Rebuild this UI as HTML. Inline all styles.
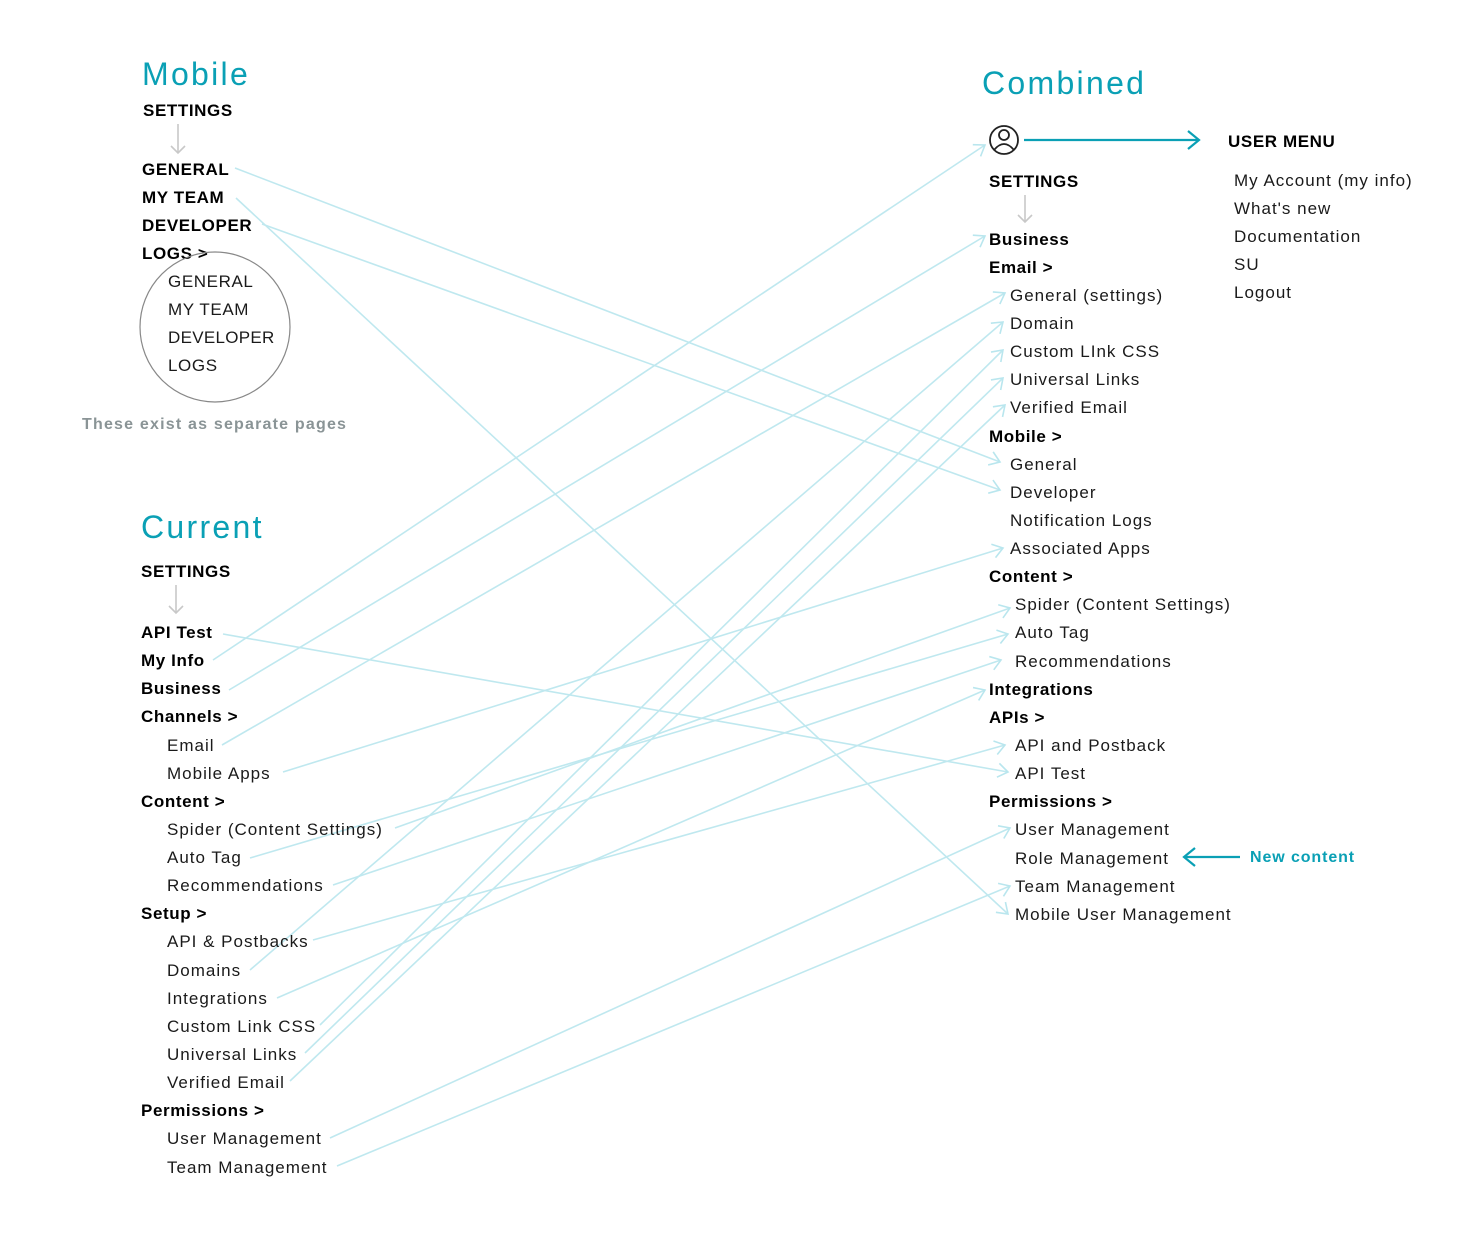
<!DOCTYPE html>
<html><head><meta charset="utf-8"><style>
html,body{margin:0;padding:0;background:#fff;}
svg{display:block;}
text{font-family:"Liberation Sans",sans-serif;font-size:17px;fill:#1a1a1a;letter-spacing:1.0px;}
.b{font-weight:bold;fill:#000;letter-spacing:0.6px;}
.h{font-size:32px;fill:#0aa0b5;letter-spacing:2.3px;}
</style></head><body>
<svg width="1457" height="1248" viewBox="0 0 1457 1248" xmlns="http://www.w3.org/2000/svg">
<defs>
<marker id="a" markerWidth="14" markerHeight="16" refX="12" refY="8" orient="auto" markerUnits="userSpaceOnUse">
<path d="M2,1 L12,8 L2,15" fill="none" stroke="#b9e6ee" stroke-width="1.6"/></marker>
<marker id="t" markerWidth="16" markerHeight="20" refX="14" refY="10" orient="auto" markerUnits="userSpaceOnUse">
<path d="M3,1 L14,10 L3,19" fill="none" stroke="#0aa0b5" stroke-width="2.2"/></marker>
<marker id="g" markerWidth="16" markerHeight="14" refX="8" refY="12" orient="0" markerUnits="userSpaceOnUse">
<path d="M1,5 L8,12 L15,5" fill="none" stroke="#c8c8c8" stroke-width="1.6"/></marker>
</defs>

<g stroke="#bfe8ef" stroke-width="1.6" fill="none" marker-end="url(#a)">
<line x1="235" y1="168" x2="1000" y2="462"/>
<line x1="236" y1="198" x2="1008" y2="914"/>
<line x1="262" y1="224" x2="1000" y2="490"/>
<line x1="223" y1="634" x2="1008" y2="772"/>
<line x1="213" y1="660" x2="985" y2="145"/>
<line x1="229" y1="690" x2="985" y2="236"/>
<line x1="222" y1="745" x2="1005" y2="293"/>
<line x1="283" y1="772" x2="1003" y2="548"/>
<line x1="395" y1="828" x2="1010" y2="608"/>
<line x1="250" y1="858" x2="1008" y2="634"/>
<line x1="333" y1="885" x2="1001" y2="660"/>
<line x1="313" y1="940" x2="1005" y2="745"/>
<line x1="250" y1="970" x2="1003" y2="322"/>
<line x1="277" y1="998" x2="985" y2="690"/>
<line x1="320" y1="1025" x2="1003" y2="350"/>
<line x1="305" y1="1053" x2="1003" y2="378"/>
<line x1="290" y1="1081" x2="1005" y2="405"/>
<line x1="330" y1="1138" x2="1010" y2="828"/>
<line x1="337" y1="1166" x2="1010" y2="886"/>
</g>

<text x="142" y="85" class="h">Mobile</text>
<text x="143" y="116" class="b">SETTINGS</text>
<line x1="178" y1="124" x2="178" y2="153" stroke="#c8c8c8" stroke-width="1.6" marker-end="url(#g)"/>
<text x="142" y="175" class="b">GENERAL</text>
<text x="142" y="203" class="b">MY TEAM</text>
<text x="142" y="231" class="b">DEVELOPER</text>
<text x="142" y="259" class="b">LOGS &gt;</text>
<circle cx="215" cy="327" r="75" fill="none" stroke="#888" stroke-width="1.2"/>
<text x="168" y="287" style="letter-spacing:0.6px">GENERAL</text>
<text x="168" y="315" style="letter-spacing:0.6px">MY TEAM</text>
<text x="168" y="343" style="letter-spacing:0.3px">DEVELOPER</text>
<text x="168" y="371" style="letter-spacing:0.6px">LOGS</text>
<text x="82" y="429" style="fill:#8a9496;font-weight:bold;font-size:16px;letter-spacing:1.2px">These exist as separate pages</text>

<text x="141" y="538" class="h">Current</text>
<text x="141" y="577" class="b">SETTINGS</text>
<line x1="176" y1="585" x2="176" y2="613" stroke="#c8c8c8" stroke-width="1.6" marker-end="url(#g)"/>
<text x="141" y="638" class="b">API Test</text>
<text x="141" y="666" class="b">My Info</text>
<text x="141" y="694" class="b">Business</text>
<text x="141" y="722" class="b">Channels &gt;</text>
<text x="167" y="751">Email</text>
<text x="167" y="779">Mobile Apps</text>
<text x="141" y="807" class="b">Content &gt;</text>
<text x="167" y="835">Spider (Content Settings)</text>
<text x="167" y="863">Auto Tag</text>
<text x="167" y="891">Recommendations</text>
<text x="141" y="919" class="b">Setup &gt;</text>
<text x="167" y="947">API &amp; Postbacks</text>
<text x="167" y="976">Domains</text>
<text x="167" y="1004">Integrations</text>
<text x="167" y="1032">Custom Link CSS</text>
<text x="167" y="1060">Universal Links</text>
<text x="167" y="1088">Verified Email</text>
<text x="141" y="1116" class="b">Permissions &gt;</text>
<text x="167" y="1144">User Management</text>
<text x="167" y="1173">Team Management</text>

<text x="982" y="94" class="h">Combined</text>
<circle cx="1004" cy="140" r="14" fill="none" stroke="#222" stroke-width="1.8"/>
<circle cx="1004" cy="135" r="5" fill="none" stroke="#222" stroke-width="1.8"/>
<path d="M994,150 Q1004,138 1014,150" fill="none" stroke="#222" stroke-width="1.8"/>
<line x1="1024" y1="140" x2="1199" y2="140" stroke="#0aa0b5" stroke-width="2.2" marker-end="url(#t)"/>
<text x="1228" y="147" class="b">USER MENU</text>
<text x="1234" y="186">My Account (my info)</text>
<text x="1234" y="214">What's new</text>
<text x="1234" y="242">Documentation</text>
<text x="1234" y="270">SU</text>
<text x="1234" y="298">Logout</text>

<text x="989" y="187" class="b">SETTINGS</text>
<line x1="1025" y1="195" x2="1025" y2="222" stroke="#c8c8c8" stroke-width="1.6" marker-end="url(#g)"/>
<text x="989" y="245" class="b">Business</text>
<text x="989" y="273" class="b">Email &gt;</text>
<text x="1010" y="301">General (settings)</text>
<text x="1010" y="329">Domain</text>
<text x="1010" y="357">Custom LInk CSS</text>
<text x="1010" y="385">Universal Links</text>
<text x="1010" y="413">Verified Email</text>
<text x="989" y="442" class="b">Mobile &gt;</text>
<text x="1010" y="470">General</text>
<text x="1010" y="498">Developer</text>
<text x="1010" y="526">Notification Logs</text>
<text x="1010" y="554">Associated Apps</text>
<text x="989" y="582" class="b">Content &gt;</text>
<text x="1015" y="610">Spider (Content Settings)</text>
<text x="1015" y="638">Auto Tag</text>
<text x="1015" y="667">Recommendations</text>
<text x="989" y="695" class="b">Integrations</text>
<text x="989" y="723" class="b">APIs &gt;</text>
<text x="1015" y="751">API and Postback</text>
<text x="1015" y="779">API Test</text>
<text x="989" y="807" class="b">Permissions &gt;</text>
<text x="1015" y="835">User Management</text>
<text x="1015" y="864">Role Management</text>
<text x="1015" y="892">Team Management</text>
<text x="1015" y="920">Mobile User Management</text>
<line x1="1240" y1="857" x2="1184" y2="857" stroke="#0aa0b5" stroke-width="2.2" marker-end="url(#t)"/>
<text x="1250" y="862" class="b" style="fill:#0aa0b5;font-size:16px;letter-spacing:0.9px">New content</text>
</svg>
</body></html>
